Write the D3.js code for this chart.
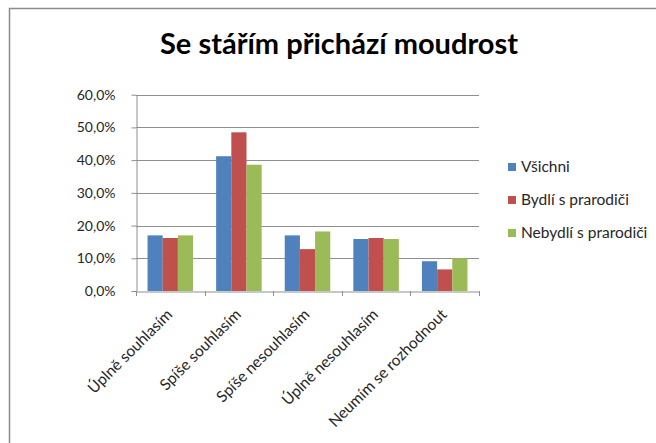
<!DOCTYPE html>
<html>
<head>
<meta charset="utf-8">
<script src="https://cdn.jsdelivr.net/npm/d3@7"></script>
<style>
  body { margin: 0; background: #fff; }
  svg { font-family: Lato, "Liberation Sans", sans-serif; }
</style>
</head>
<body>
<div id="chart"></div>
<script>
// data
const categories = ["Úplně souhlasím", "Spíše souhlasím", "Spíše nesouhlasím", "Úplně nesouhlasím", "Neumím se rozhodnout"];
const seriesNames = ["Všichni", "Bydlí s prarodiči", "Nebydlí s prarodiči"];
const vsichni = [0.170, 0.412, 0.170, 0.159, 0.091];
const bydli = [0.162, 0.485, 0.128, 0.162, 0.066];
const nebydli = [0.170, 0.386, 0.182, 0.159, 0.100];
const yTicks = [0, 0.1, 0.2, 0.3, 0.4, 0.5, 0.6];
const colors = ["#4F81BD", "#C0504D", "#9BBB59"];

const values = [vsichni, bydli, nebydli];
const rows = categories.map((c, i) => ({
  cat: c,
  vals: seriesNames.map((s, j) => ({ series: s, value: values[j][i] }))
}));

const W = 656, H = 443;
const svg = d3.select('#chart')
  .append('svg')
  .attr('width', W)
  .attr('height', H);

// outer chart border (right/bottom fall outside the picture)
svg.append('rect')
  .attr('x', 9.5)
  .attr('y', 8.5)
  .attr('width', W)
  .attr('height', H)
  .attr('fill', 'none')
  .attr('stroke', '#8c8c8c')
  .attr('stroke-width', 1.5);

svg.append('text')
  .attr('x', 339)
  .attr('y', 54)
  .attr('text-anchor', 'middle')
  .attr('font-size', 29)
  .attr('font-weight', 'bold')
  .attr('fill', '#000')
  .text('Se stářím přichází moudrost');

const x0 = d3.scaleBand()
  .domain(categories)
  .range([136, 479]);

const x1 = d3.scaleBand()
  .domain(seriesNames)
  .range([0, x0.bandwidth()])
  .paddingOuter(0.76);

const y = d3.scaleLinear()
  .domain([0, 0.6])
  .range([291, 94.7]);

const locale = d3.formatLocale({ decimal: ",", thousands: " ", grouping: [3], currency: ["", " Kč"] });
const pct = locale.format(".1%");

// gridlines
svg.append('g')
  .selectAll('line')
  .data(yTicks.slice(1))
  .enter()
  .append('line')
  .attr('x1', 136)
  .attr('x2', 479)
  .attr('y1', d => Math.round(y(d)) + 0.5)
  .attr('y2', d => Math.round(y(d)) + 0.5)
  .attr('stroke', '#8f8f8f')
  .attr('stroke-width', 1);

// bars
const groups = svg.append('g')
  .selectAll('g')
  .data(rows)
  .enter()
  .append('g')
  .attr('transform', d => `translate(${x0(d.cat)},0)`);

groups.selectAll('rect')
  .data(d => d.vals)
  .enter()
  .append('rect')
  .attr('x', d => x1(d.series))
  .attr('width', x1.bandwidth())
  .attr('y', d => y(d.value))
  .attr('height', d => y(0) - y(d.value))
  .attr('fill', (d, i) => colors[i]);

// y axis
const yAxis = svg.append('g')
  .attr('transform', 'translate(136.5,0)')
  .call(d3.axisLeft(y).tickValues(yTicks).tickFormat(pct).tickSize(5).tickSizeOuter(0));
yAxis.select('.domain').attr('stroke', '#8f8f8f');
yAxis.selectAll('.tick line').attr('stroke', '#8f8f8f');
yAxis.selectAll('.tick text')
  .attr('x', -21)
  .style('font-size', '14px')
  .style('font-family', 'Lato, sans-serif')
  .attr('fill', '#262626');

// x axis
const xAxis = svg.append('g')
  .attr('transform', `translate(0,${Math.round(y(0)) + 0.5})`)
  .call(d3.axisBottom(x0).tickSize(0).tickSizeOuter(0));
xAxis.select('.domain').attr('stroke', '#8f8f8f');
xAxis.selectAll('.tick line').remove();
xAxis.selectAll('.tick text')
  .style('font-size', '15.5px')
  .style('font-family', 'Lato, sans-serif')
  .attr('fill', '#262626')
  .attr('text-anchor', 'end')
  .attr('y', 0)
  .attr('dy', 0)
  .attr('transform', 'translate(3,24) rotate(-45)');

// category boundary ticks
svg.append('g')
  .selectAll('line')
  .data(categories.concat(['end']))
  .enter()
  .append('line')
  .attr('x1', (d, i) => Math.round(i < categories.length ? x0(d) : x0.range()[1]) + 0.5)
  .attr('x2', (d, i) => Math.round(i < categories.length ? x0(d) : x0.range()[1]) + 0.5)
  .attr('y1', y(0))
  .attr('y2', y(0) + 5)
  .attr('stroke', '#8f8f8f');

// legend
const legend = svg.append('g')
  .selectAll('g')
  .data(seriesNames)
  .enter()
  .append('g')
  .attr('transform', (d, i) => `translate(508,${167 + i * 33})`);

legend.append('rect')
  .attr('x', 0)
  .attr('y', -4)
  .attr('width', 8)
  .attr('height', 8)
  .attr('fill', (d, i) => colors[i]);

legend.append('text')
  .attr('x', 13)
  .attr('dy', '0.35em')
  .attr('font-size', 15.5)
  .attr('fill', '#262626')
  .text(d => d);
</script>
</body>
</html>
